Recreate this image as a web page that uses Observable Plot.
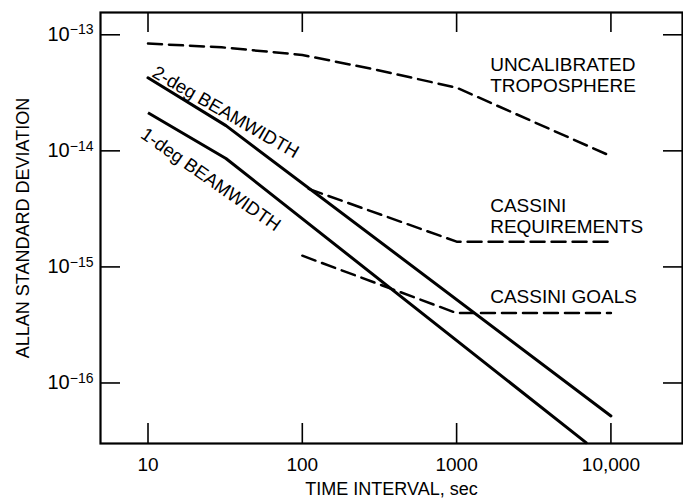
<!DOCTYPE html>
<html><head><meta charset="utf-8">
<script src="https://cdn.jsdelivr.net/npm/d3@7"></script>
<script src="https://cdn.jsdelivr.net/npm/@observablehq/plot@0.6"></script>
<style>
html,body{margin:0;padding:0;background:#fff;overflow:hidden;}
#chart svg{display:block;font-family:"Liberation Sans",Arial,Helvetica,sans-serif;}
</style></head><body><div id="chart"></div>
<script>
// ---- data ----
const xTicks = [10, 100, 1000, 10000];
const xTickLabels = ["10", "100", "1000", "10,000"];
const yTicks = [1e-13, 1e-14, 1e-15, 1e-16];
const yTickExponents = ["−13", "−14", "−15", "−16"];

const tropoX = [10, 30, 100, 300, 1000, 10000];
const tropoY = [8.4e-14, 7.8e-14, 6.7e-14, 5.0e-14, 3.5e-14, 9.0e-15];
const beam2X = [10, 32, 10000];
const beam2Y = [4.26e-14, 1.65e-14, 5.2e-17];
const beam1X = [10, 32, 7000];
const beam1Y = [2.13e-14, 8.6e-15, 3.02e-17];
const reqX = [110, 1000, 10000];
const reqY = [4.7e-15, 1.65e-15, 1.65e-15];
const goalX = [100, 1000, 10000];
const goalY = [1.25e-15, 4.0e-16, 4.0e-16];

const seriesLabels = ["UNCALIBRATED\nTROPOSPHERE", "CASSINI\nREQUIREMENTS", "CASSINI GOALS"];
const seriesLabelX = [1650, 1650, 1650];
const seriesLabelY = [4.55e-14, 2.77e-15, 5.66e-16];
const beamLabels = ["2-deg BEAMWIDTH", "1-deg BEAMWIDTH"];
const beamLabelX = [31.8, 25.5];
const beamLabelY = [2.15e-14, 5.64e-15];

const xTitle = "TIME INTERVAL, sec";
const yTitle = "ALLAN STANDARD DEVIATION";

// ---- layout ----
const W = 683, H = 502, mL = 100, mR = 1, mT = 12, mB = 59;
const fw = W - mL - mR, fh = H - mT - mB;
const pts = (X, Y) => X.map((x, i) => ({x, y: Y[i]}));

const chart = Plot.plot({
  width: W, height: H,
  marginLeft: mL, marginRight: mR, marginTop: mT, marginBottom: mB,
  x: {type: "log", domain: [4.922, 29100], axis: null},
  y: {type: "log", domain: [3.01e-17, 1.556e-13], axis: null},
  marks: [
    Plot.ruleX(xTicks, {x: d => d, insetTop: fh - 20, stroke: "#000", strokeWidth: 1.6}),
    Plot.ruleX(xTicks, {x: d => d, insetBottom: fh - 20, stroke: "#000", strokeWidth: 1.6}),
    Plot.ruleY(yTicks, {y: d => d, insetRight: fw - 20, stroke: "#000", strokeWidth: 1.6}),
    Plot.ruleY(yTicks, {y: d => d, insetLeft: fw - 19, stroke: "#000", strokeWidth: 1.6}),
    Plot.frame({stroke: "#000", strokeWidth: 2.2}),
    // tick labels placed through the scales
    Plot.text(xTicks, {x: d => d, frameAnchor: "bottom", dy: 21, lineAnchor: "middle",
      text: d => xTickLabels[xTicks.indexOf(d)], fontSize: 19, fill: "#000"}),
    Plot.text(yTicks, {y: d => d, frameAnchor: "left", dx: -7, textAnchor: "end", lineAnchor: "middle",
      text: d => "10^" + yTickExponents[yTicks.indexOf(d)], fontSize: 20, fill: "#000"}),
    // curves
    Plot.line(pts(tropoX, tropoY), {x: "x", y: "y", stroke: "#000", strokeWidth: 2.5, strokeDasharray: "14,7"}),
    Plot.line(pts(reqX, reqY), {x: "x", y: "y", stroke: "#000", strokeWidth: 2.5, strokeDasharray: "14,7"}),
    Plot.line(pts(goalX, goalY), {x: "x", y: "y", stroke: "#000", strokeWidth: 2.5, strokeDasharray: "14,7"}),
    Plot.line(pts(beam2X, beam2Y), {x: "x", y: "y", stroke: "#000", strokeWidth: 3}),
    Plot.line(pts(beam1X, beam1Y), {x: "x", y: "y", stroke: "#000", strokeWidth: 3, strokeLinecap: "butt"}),
    // labels
    Plot.text(seriesLabels.map((t, i) => ({t, x: seriesLabelX[i], y: seriesLabelY[i]})),
      {x: "x", y: "y", text: "t", textAnchor: "start", lineHeight: 1.15, fontSize: 19, fill: "#000"}),
    Plot.text([{t: beamLabels[0], x: beamLabelX[0], y: beamLabelY[0]}],
      {x: "x", y: "y", text: "t", rotate: 30, fontSize: 18.5, fill: "#000"}),
    Plot.text([{t: beamLabels[1], x: beamLabelX[1], y: beamLabelY[1]}],
      {x: "x", y: "y", text: "t", rotate: 35, fontSize: 18.5, fill: "#000"}),
    Plot.text([xTitle], {frameAnchor: "bottom", dy: 46, lineAnchor: "middle", textAnchor: "middle", fontSize: 18, fill: "#000"}),
    Plot.text([yTitle], {frameAnchor: "left", dx: -77, rotate: -90, textAnchor: "middle", lineAnchor: "middle", fontSize: 18, fill: "#000"})
  ]
});

// superscript exponents on the y tick labels
d3.select(chart).selectAll("text").each(function() {
  const s = this.textContent;
  if (s.startsWith("10^")) {
    const exp = s.slice(3);
    this.textContent = "10";
    d3.select(this).append("tspan").attr("font-size", "14px").attr("dy", "-0.48em").text(exp);
  }
});

document.getElementById("chart").appendChild(chart);
</script>
</body></html>
